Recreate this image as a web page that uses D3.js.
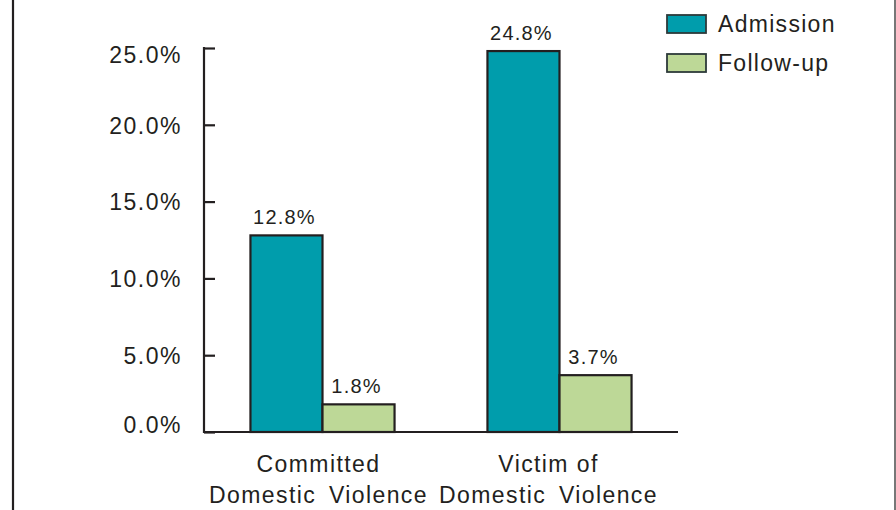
<!DOCTYPE html>
<html>
<head>
<meta charset="utf-8">
<script src="https://cdn.jsdelivr.net/npm/d3@7"></script>
<style>
  html, body { margin: 0; padding: 0; background: #fff; }
  svg { display: block; font-family: "Liberation Sans", Arial, sans-serif; }
</style>
</head>
<body>
<svg id="chart" width="896" height="510"></svg>
<script>
// Share of clients reporting domestic violence, at admission and at follow-up
const categories = [["Committed", "Domestic Violence"], ["Victim of", "Domestic Violence"]];
const seriesNames = ["Admission", "Follow-up"];
const admission = [12.8, 24.8];
const followUp = [1.8, 3.7];
const yTicks = [0, 5, 10, 15, 20, 25];
const colors = ["#009dac", "#bdd897"];

const svg = d3.select("#chart");
const ink = "#231f20";

// frame edges
svg.append("line").attr("x1", 13).attr("x2", 13).attr("y1", 0).attr("y2", 510)
  .attr("stroke", "#231f20").attr("stroke-width", 2.2);
svg.append("line").attr("x1", 895).attr("x2", 895).attr("y1", 0).attr("y2", 510)
  .attr("stroke", "#777").attr("stroke-width", 2);

const plot = { left: 204, right: 678, top: 48, bottom: 432 };

const y = d3.scaleLinear().domain([0, 25]).range([plot.bottom, plot.top]);
const x0 = d3.scaleBand().domain(d3.range(categories.length))
  .range([plot.left, plot.right]).paddingInner(0.392).paddingOuter(0.196);
const x1 = d3.scaleBand().domain(d3.range(seriesNames.length)).range([0, x0.bandwidth()]);

// y axis with inward ticks
const yAxis = d3.axisLeft(y).tickValues(yTicks).tickSize(-11).tickPadding(22)
  .tickFormat(d => d.toFixed(1) + "%");
const gy = svg.append("g").attr("transform", `translate(${plot.left},0)`).call(yAxis);
gy.select(".domain").remove();
gy.selectAll(".tick line").attr("stroke", ink).attr("stroke-width", 2.2);
gy.selectAll(".tick text")
  .attr("fill", ink).attr("font-size", 23).attr("letter-spacing", 1.5)
  .attr("font-family", "Liberation Sans, Arial, sans-serif")
  .attr("dy", d => d === 0 ? "0.01em" : d === 25 ? "0.62em" : "0.36em");
svg.append("line").attr("x1", plot.left).attr("x2", plot.left)
  .attr("y1", plot.top - 1).attr("y2", plot.bottom + 1)
  .attr("stroke", ink).attr("stroke-width", 2.2);

// bars
const groups = svg.append("g").selectAll("g").data(categories).join("g")
  .attr("transform", (d, i) => `translate(${x0(i)},0)`);
groups.each(function(d, i) {
  const vals = [admission[i], followUp[i]];
  const g = d3.select(this);
  g.selectAll("rect").data(vals).join("rect")
    .attr("x", (v, j) => x1(j)).attr("width", x1.bandwidth())
    .attr("y", v => y(v)).attr("height", v => y(0) - y(v))
    .attr("fill", (v, j) => colors[j]).attr("stroke", ink).attr("stroke-width", 2.2);
  g.selectAll("text.val").data(vals).join("text").attr("class", "val")
    .attr("x", (v, j) => x1(j) + x1.bandwidth() / 2 - 2)
    .attr("y", v => y(v) - 11)
    .attr("text-anchor", "middle").attr("font-size", 20).attr("letter-spacing", 1.2)
    .attr("fill", ink).text(v => v.toFixed(1) + "%");
});

// baseline
svg.append("line").attr("x1", plot.left - 1).attr("x2", plot.right)
  .attr("y1", plot.bottom).attr("y2", plot.bottom)
  .attr("stroke", ink).attr("stroke-width", 2.2);

// category labels
const catLabels = svg.append("g").selectAll("text").data(categories).join("text")
  .attr("text-anchor", "middle").attr("font-size", 23).attr("letter-spacing", 1.4)
  .attr("fill", ink);
catLabels.each(function(lines, i) {
  const cx = x0(i) + x0.bandwidth() / 2 - (i === 0 ? 4 : 11);
  d3.select(this).selectAll("tspan").data(lines).join("tspan")
    .attr("x", cx).attr("y", (l, k) => 472 + k * 31)
    .attr("word-spacing", (l, k) => k === 1 ? 5 : 0).text(l => l);
});

// legend
const legend = svg.append("g").attr("transform", "translate(667,15)");
seriesNames.forEach((name, i) => {
  const row = legend.append("g").attr("transform", `translate(0,${i * 39})`);
  row.append("rect").attr("width", 39).attr("height", 18)
    .attr("fill", colors[i]).attr("stroke", "#2d3a3a").attr("stroke-width", 1.8);
  row.append("text").attr("x", 51).attr("y", 17).attr("font-size", 23)
    .attr("letter-spacing", 1.3).attr("fill", ink).text(name);
});
</script>
</body>
</html>
